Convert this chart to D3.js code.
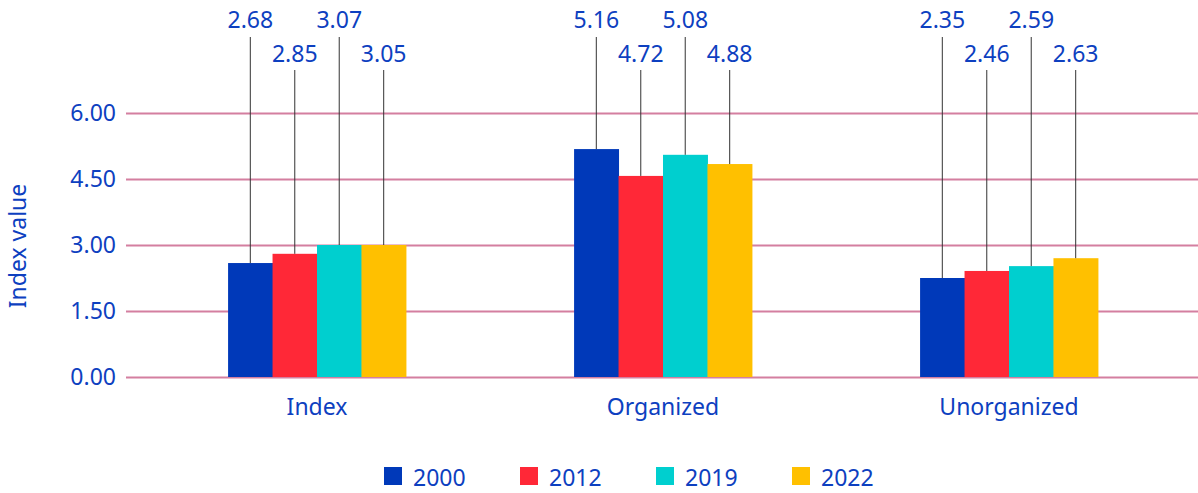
<!DOCTYPE html>
<html>
<head>
<meta charset="utf-8">
<script src="https://cdn.jsdelivr.net/npm/d3@7"></script>
<style>
  body { margin: 0; background: #fff; }
  svg { display: block; font-family: "Noto Sans", sans-serif; }
</style>
</head>
<body>
<svg id="chart" width="1198" height="493"></svg>
<script>
  // data
  const categories = ['Index', 'Organized', 'Unorganized'];
  const years = ['2000', '2012', '2019', '2022'];
  // bar heights as drawn
  const barValues = [
    [2.59, 2.80, 3.00, 3.00],
    [5.18, 4.57, 5.05, 4.84],
    [2.25, 2.41, 2.52, 2.70],
  ];
  // value labels as printed
  const labelValues = [
    ['2.68', '2.85', '3.07', '3.05'],
    ['5.16', '4.72', '5.08', '4.88'],
    ['2.35', '2.46', '2.59', '2.63'],
  ];
  const yTicks = [0, 1.5, 3, 4.5, 6];
  const colors = ['#0039b9', '#ff2837', '#00cfcf', '#ffc000'];

  const textColor = '#0d40c0';
  const fontSize = 23;
  const svg = d3.select('#chart');

  const x0 = d3.scaleBand()
    .domain(categories)
    .range([144, 1182])
    .paddingInner(0.486)
    .paddingOuter(0.243);

  const x1 = d3.scaleBand()
    .domain(years)
    .range([0, x0.bandwidth()]);

  const y = d3.scaleLinear()
    .domain([0, 6])
    .range([377, 113]);

  const color = d3.scaleOrdinal().domain(years).range(colors);

  // gridlines + tick labels
  const yAxis = svg.append('g')
    .attr('transform', 'translate(126,0)')
    .call(d3.axisLeft(y).tickValues(yTicks).tickFormat(d3.format('.2f'))
      .tickSize(-(1198 - 126)).tickPadding(10));
  yAxis.select('.domain').remove();
  yAxis.selectAll('.tick line')
    .attr('stroke', '#d47fa0')
    .attr('stroke-width', 2);
  yAxis.selectAll('.tick text')
    .attr('fill', textColor)
    .attr('font-size', fontSize)
    .attr('font-family', '"Noto Sans", sans-serif');

  svg.append('text')
    .attr('transform', 'translate(26,246) rotate(-90)')
    .attr('text-anchor', 'middle')
    .attr('fill', textColor)
    .attr('font-size', fontSize)
    .text('Index value');

  const groups = svg.append('g')
    .selectAll('g')
    .data(categories)
    .enter().append('g')
    .attr('transform', (d) => 'translate(' + x0(d) + ',0)');

  const cells = groups.selectAll('g')
    .data((d, i) => years.map((yr, j) => ({
      key: yr, j: j, value: barValues[i][j], label: labelValues[i][j],
    })))
    .enter().append('g');

  cells.append('rect')
    .attr('x', (d) => x1(d.key))
    .attr('y', (d) => y(d.value))
    .attr('width', x1.bandwidth() + 0.5)
    .attr('height', (d) => y(0) - y(d.value))
    .attr('fill', (d) => color(d.key));

  // leader lines with staggered labels
  cells.append('line')
    .attr('x1', (d) => x1(d.key) + x1.bandwidth() / 2)
    .attr('x2', (d) => x1(d.key) + x1.bandwidth() / 2)
    .attr('y1', (d) => d.j % 2 === 0 ? 37 : 70)
    .attr('y2', (d) => y(d.value))
    .attr('stroke', '#333')
    .attr('stroke-width', 1);

  cells.append('text')
    .attr('x', (d) => x1(d.key) + x1.bandwidth() / 2)
    .attr('y', (d) => d.j % 2 === 0 ? 28 : 62)
    .attr('text-anchor', 'middle')
    .attr('fill', textColor)
    .attr('font-size', fontSize)
    .text((d) => d.label);

  // category labels
  svg.append('g')
    .selectAll('text')
    .data(categories)
    .enter().append('text')
    .attr('x', (d) => x0(d) + x0.bandwidth() / 2)
    .attr('y', 415)
    .attr('text-anchor', 'middle')
    .attr('fill', textColor)
    .attr('font-size', fontSize)
    .text((d) => d);

  // legend
  const legend = svg.append('g')
    .selectAll('g')
    .data(years)
    .enter().append('g')
    .attr('transform', (d, i) => 'translate(' + (384 + i * 136) + ',0)');

  legend.append('rect')
    .attr('y', 467)
    .attr('width', 18)
    .attr('height', 18)
    .attr('fill', color);

  legend.append('text')
    .attr('x', 29)
    .attr('y', 486)
    .attr('fill', textColor)
    .attr('font-size', fontSize)
    .text((d) => d);
</script>
</body>
</html>
